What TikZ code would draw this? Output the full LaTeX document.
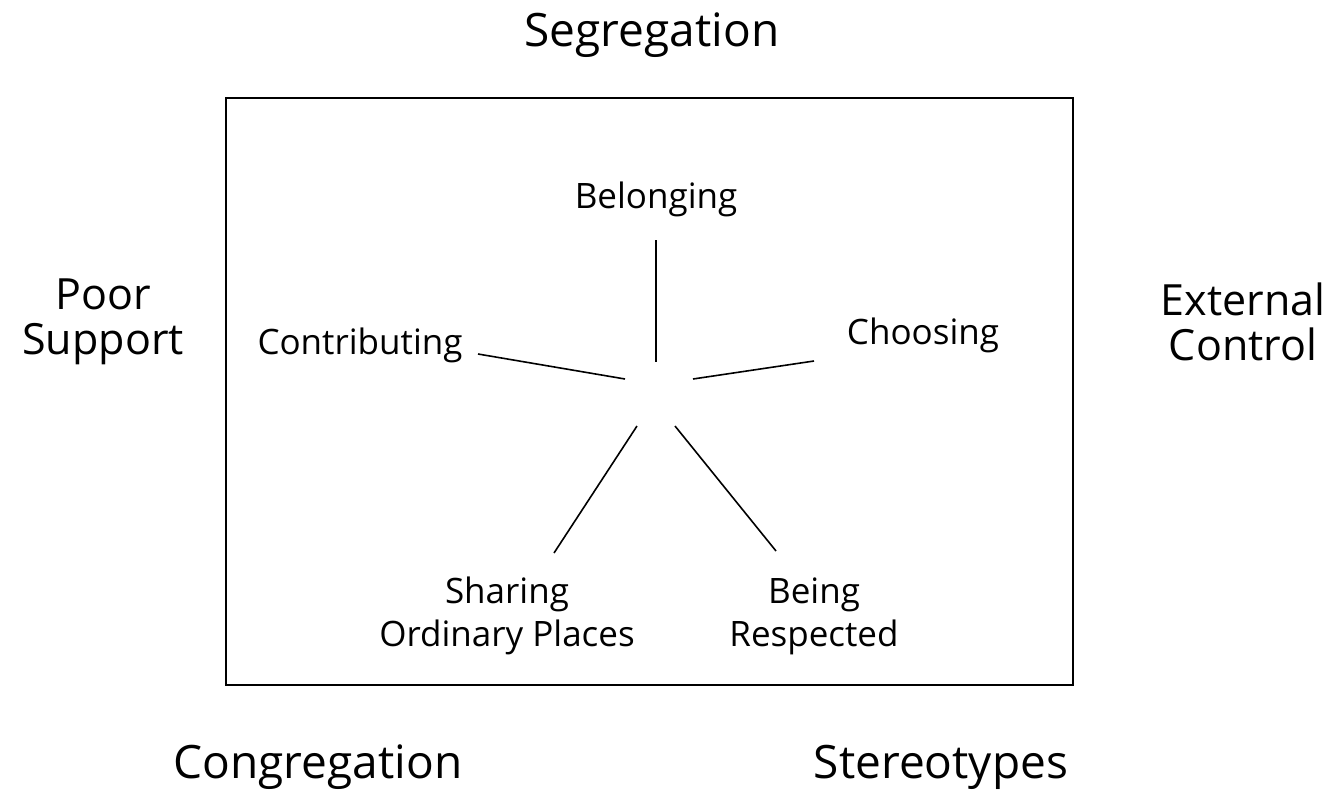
\documentclass[tikz,border=0pt]{standalone}
\usepackage{fontspec}
\setmainfont{Open Sans}
\begin{document}
\begin{tikzpicture}[x=1pt,y=-1pt,
  big/.style={font=\fontsize{46}{41}\selectfont,align=center,inner sep=0pt},
  side/.style={font=\fontsize{43}{45}\selectfont,align=center,inner sep=0pt},
  small/.style={font=\fontsize{35}{43}\selectfont,align=center,inner sep=0pt},
  spoke/.style={line width=1.6pt}]
\useasboundingbox (0,0) rectangle (1333,790);
\node[draw,line width=1.6pt,minimum width=847pt,minimum height=587pt,anchor=north west,inner sep=0pt] (frame) at (225,97) {};
\node[big] (seg) at (652,35) {Segregation};
\node[side] (poor) at (103,322) {Poor\\Support};
\node[side] (ext) at (1243,322) {External\\Control};
\node[big] (cong) at (318,767) {Congregation};
\node[big] (ster) at (941,767) {Stereotypes};
\node[small] (bel) at (656,199) {Belonging};
\node[small] (con) at (360,345) {Contributing};
\node[small] (cho) at (923,335) {Choosing};
\node[small] (sha) at (507,616) {Sharing\\Ordinary Places};
\node[small] (res) at (814,616) {Being\\Respected};
\coordinate (b1) at (656,240); \coordinate (b2) at (656,362);
\coordinate (c1) at (478,354); \coordinate (c2) at (625,379);
\coordinate (h1) at (814,361); \coordinate (h2) at (693,379);
\coordinate (s1) at (554,553); \coordinate (s2) at (637,426);
\coordinate (r1) at (776,551); \coordinate (r2) at (675,426);
\draw[spoke] (b1) -- (b2);
\draw[spoke] (c1) -- (c2);
\draw[spoke] (h1) -- (h2);
\draw[spoke] (s1) -- (s2);
\draw[spoke] (r1) -- (r2);
\end{tikzpicture}
\end{document}
